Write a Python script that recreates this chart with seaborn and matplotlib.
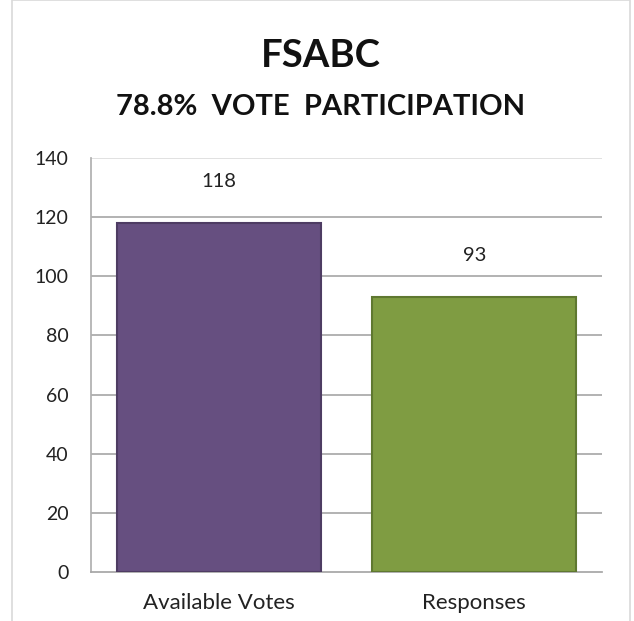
import matplotlib
matplotlib.use("Agg")
import matplotlib.pyplot as plt
from matplotlib.patches import Rectangle
import seaborn as sns
import pandas as pd

# Datos del gráfico
categorias = ["Available Votes", "Responses"]
valores = [118, 93]
colores = ["#664F80", "#7F9C42"]
bordes = ["#4E3C63", "#5F7830"]
titulo = "FSABC"
subtitulo = "78.8%  VOTE  PARTICIPATION"
ticks_y = [0, 20, 40, 60, 80, 100, 120, 140]

sns.set_theme(style="white")
plt.rcParams["font.family"] = ["Lato", "DejaVu Sans"]

df = pd.DataFrame({"Categoria": categorias, "Valor": valores})

fig = plt.figure(figsize=(6.34, 6.21), dpi=100)
ax = fig.add_axes([0.1435, 0.0789, 0.806, 0.6667])

sns.barplot(data=df, x="Categoria", y="Valor", hue="Categoria",
            palette=colores, width=0.8, ax=ax, legend=False, saturation=1)
for patch, borde in zip(ax.patches, bordes):
    patch.set_edgecolor(borde)
    patch.set_linewidth(1.5)
    patch.set_zorder(3)

# Etiquetas de valor sobre las barras
for i, v in enumerate(valores):
    ax.text(i, v + 14, str(v), ha="center", va="center", fontsize=14.5, color="#222222")

ax.set_ylim(0, 140)
ax.set_yticks(ticks_y)
ax.set_xlim(-0.5, 1.5)
for t in ticks_y[1:]:
    ax.axhline(t, color="#a6a6a6" if t < 140 else "#dcdcdc", linewidth=1.2, zorder=1)

ax.set_xlabel("")
ax.set_ylabel("")
ax.tick_params(axis="y", labelsize=14, colors="#222222", length=0, pad=16)
ax.tick_params(axis="x", labelsize=16, colors="#222222", length=0, pad=15)
for s in ["top", "right"]:
    ax.spines[s].set_visible(False)
ax.spines["left"].set_color("#b0b0b0")
ax.spines["bottom"].set_color("#a6a6a6")

fig.text(0.506, 0.91, titulo, ha="center", va="center", fontsize=27.5, fontweight="bold", color="#111111")
fig.text(0.506, 0.828, subtitulo, ha="center", va="center", fontsize=21, fontweight="bold", color="#111111")

# Marco exterior del gráfico (sin borde inferior visible)
fig.patches.append(Rectangle((0.019, -0.1), 0.975, 1.1, transform=fig.transFigure,
                             fill=False, edgecolor="#d9d9d9", linewidth=1.2))

fig.savefig("out.png", dpi=100)
